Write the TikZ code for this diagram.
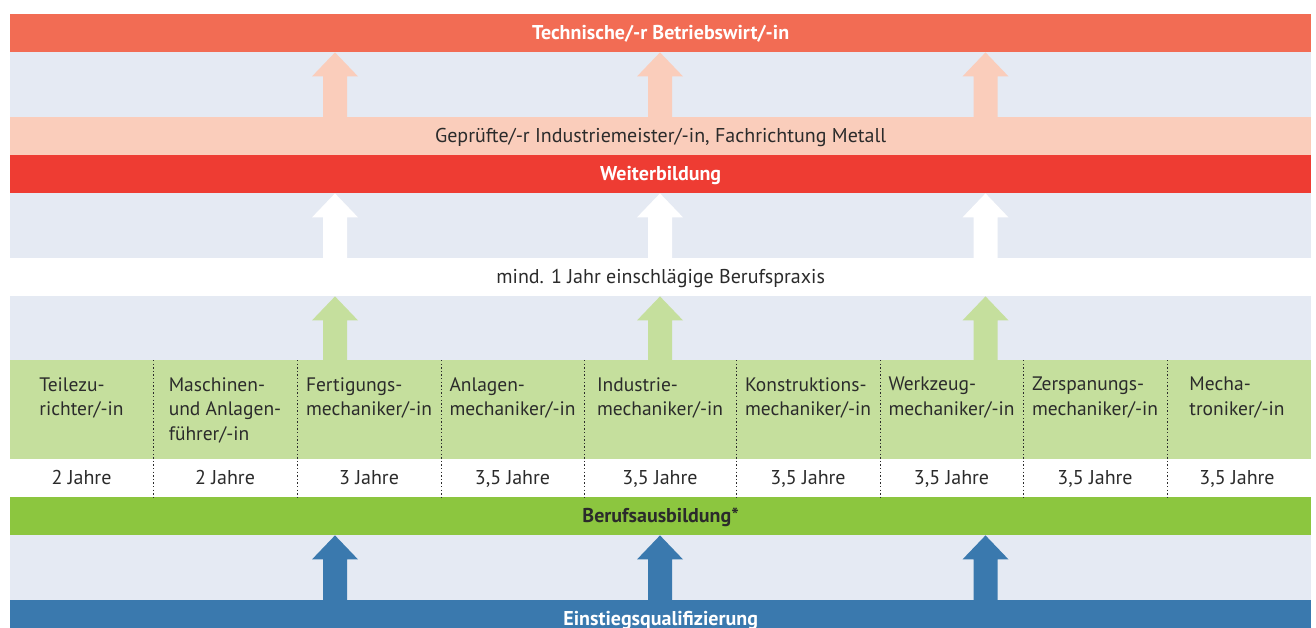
\documentclass[tikz,border=0pt]{standalone}
\usepackage{fontspec}
\setmainfont{PT Sans}
\usetikzlibrary{calc}
\definecolor{topred}{HTML}{F26C54}
\definecolor{peach}{HTML}{FACDBB}
\definecolor{wred}{HTML}{EE3C33}
\definecolor{bggray}{HTML}{E5EAF3}
\definecolor{lgreen}{HTML}{C5DF9D}
\definecolor{dgreen}{HTML}{8CC63F}
\definecolor{eqblue}{HTML}{3A79AE}
\definecolor{txt}{HTML}{2B2B2B}
\newcommand{\bigarrow}[4]{%
  \fill[#4] ($(#1 |- #2.north)+(-12,0)$) -- ($(#1 |- #3.south)+(-12,24)$) --
    ($(#1 |- #3.south)+(-23,24)$) -- (#1 |- #3.south) --
    ($(#1 |- #3.south)+(23,24)$) -- ($(#1 |- #3.south)+(12,24)$) --
    ($(#1 |- #2.north)+(12,0)$) -- cycle;}
\begin{document}
\begin{tikzpicture}[x=1pt,y=-1pt,
  band/.style={anchor=north west, minimum width=1301pt, minimum height=38pt,
    inner sep=0pt, text height=13.5pt, text depth=0pt, text=txt,
    font=\fontsize{20}{24}\selectfont},
  boldband/.style={band, text=white, font=\fontsize{20}{24}\selectfont\bfseries},
  jobtext/.style={anchor=north, align=left, inner sep=0pt, text=txt,
    font=\fontsize{19.5}{24.5}\selectfont},
  yeartext/.style={inner sep=0pt, text height=13.5pt, text depth=0pt, text=txt,
    font=\fontsize{20}{24}\selectfont},
  divider/.style={draw=txt, line width=0.9pt, dash pattern=on 1.3pt off 2.3pt}]
\useasboundingbox (0,0) rectangle (1316,628);
\clip (0,0) rectangle (1316,628);
\fill[bggray] (10,14) rectangle (1311,640);
% bands
\node[boldband, fill=topred] (tbw) at (10,14) {Technische/-r Betriebswirt/-in};
\node[band, fill=peach] (meister) at (10,117) {Geprüfte/-r Industriemeister/-in, Fachrichtung Metall};
\node[boldband, fill=wred] (weiter) at (10,155) {Weiterbildung};
\node[band, fill=white] (praxis) at (10,258) {mind. 1 Jahr einschlägige Berufspraxis};
\node[band, fill=lgreen, minimum height=99pt] (berufe) at (10,360) {};
\node[band, fill=white] (jahre) at (10,459) {};
\node[band, fill=dgreen, font=\fontsize{20}{24}\selectfont\bfseries] (ausb) at (10,497) {Berufsausbildung*};
\node[boldband, fill=eqblue] (eq) at (10,600) {Einstiegsqualifizierung};
% arrow columns
\coordinate (a1) at (335,0);
\coordinate (a2) at (660,0);
\coordinate (a3) at (985.5,0);
\foreach \a in {a1,a2,a3}{
  \bigarrow{\a}{meister}{tbw}{peach}
  \bigarrow{\a}{praxis}{weiter}{white}
  \bigarrow{\a}{berufe}{praxis}{lgreen}
  \bigarrow{\a}{eq}{ausb}{eqblue}
}
% dividers
\foreach \x in {153,297,441,584,736,880,1023,1167}{
  \draw[divider] (\x,360) -- (\x,497);
}
% job names and durations
\foreach \i/\x/\job/\yr in {
  1/81.5/{Teilezu-\\richter/-in}/{2 Jahre},
  2/225/{Maschinen-\\und Anlagen-\\führer/-in}/{2 Jahre},
  3/369/{Fertigungs-\\mechaniker/-in}/{3 Jahre},
  4/512.5/{Anlagen-\\mechaniker/-in}/{3,5 Jahre},
  5/660/{Industrie-\\mechaniker/-in}/{3,5 Jahre},
  6/808/{Konstruktions-\\mechaniker/-in}/{3,5 Jahre},
  7/951.5/{Werkzeug-\\mechaniker/-in}/{3,5 Jahre},
  8/1095/{Zerspanungs-\\mechaniker/-in}/{3,5 Jahre},
  9/1237/{Mecha-\\troniker/-in}/{3,5 Jahre}}{
  \node[jobtext] (job\i) at (\x,377) {\job};
  \node[yeartext] (yr\i) at (\x,478) {\yr};
}
\end{tikzpicture}
\end{document}
